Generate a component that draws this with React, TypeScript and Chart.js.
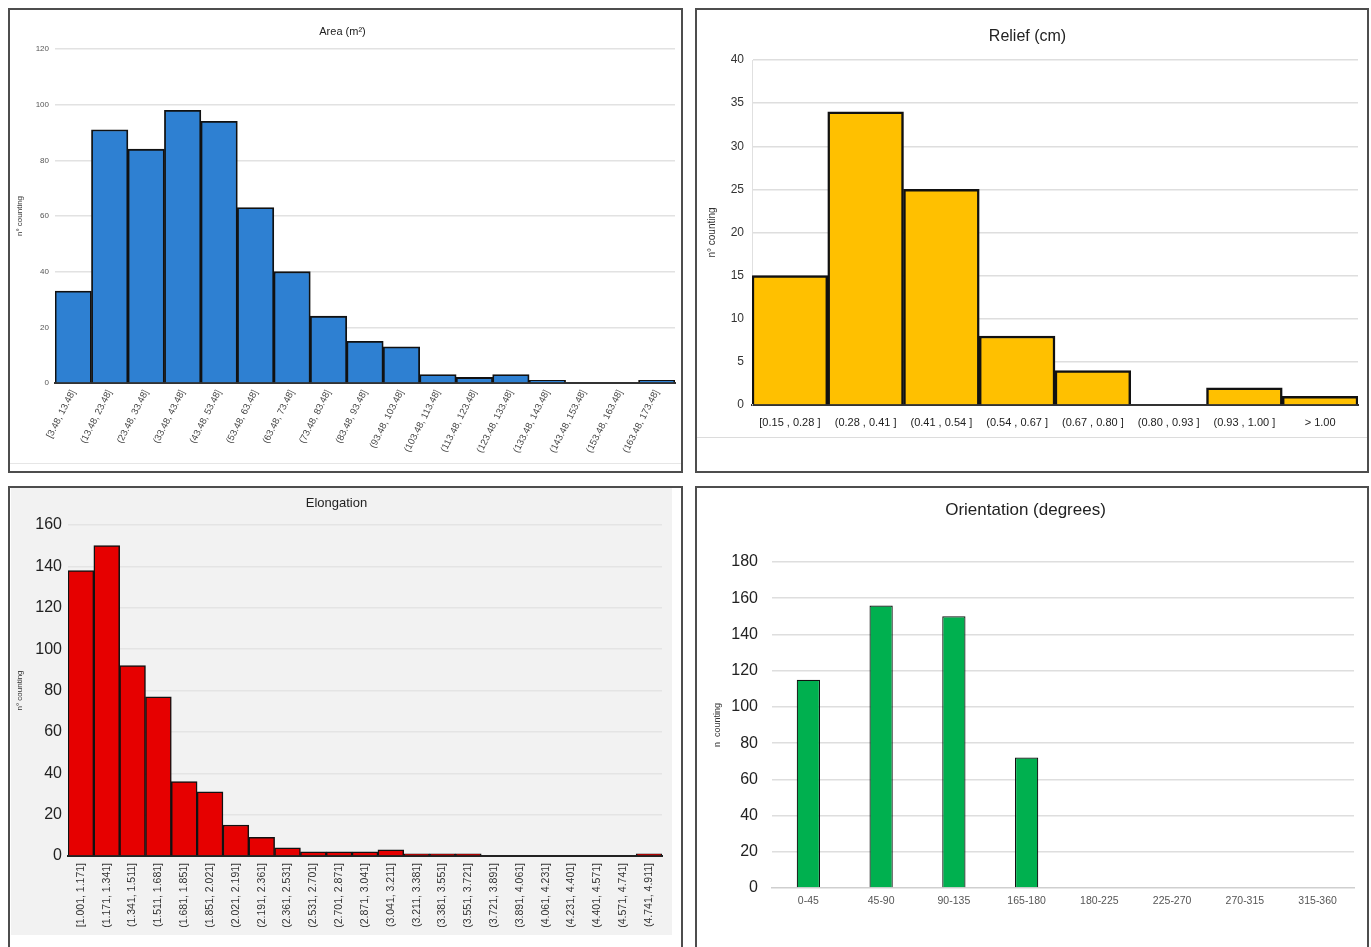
import React, { useEffect, useRef } from "react";
import { Chart, registerables } from "chart.js";

Chart.register(...registerables);

const FONT = "'Liberation Sans', Arial, Helvetica, sans-serif";

// ---------- Data ----------
const areaLabels = [
  "[3.48, 13.48]", "(13.48, 23.48]", "(23.48, 33.48]", "(33.48, 43.48]", "(43.48, 53.48]",
  "(53.48, 63.48]", "(63.48, 73.48]", "(73.48, 83.48]", "(83.48, 93.48]", "(93.48, 103.48]",
  "(103.48, 113.48]", "(113.48, 123.48]", "(123.48, 133.48]", "(133.48, 143.48]",
  "(143.48, 153.48]", "(153.48, 163.48]", "(163.48, 173.48]",
];
const areaCounts = [33, 91, 84, 98, 94, 63, 40, 24, 15, 13, 3, 2, 3, 1, 0, 0, 1];

const reliefLabels = [
  "[0.15 , 0.28 ]", "(0.28 , 0.41 ]", "(0.41 , 0.54 ]", "(0.54 , 0.67 ]",
  "(0.67 , 0.80 ]", "(0.80 , 0.93 ]", "(0.93 , 1.00 ]", "> 1.00",
];
const reliefCounts = [15, 34, 25, 8, 4, 0, 2, 1];

const elongLabels = [
  "[1.001, 1.171]", "(1.171, 1.341]", "(1.341, 1.511]", "(1.511, 1.681]", "(1.681, 1.851]",
  "(1.851, 2.021]", "(2.021, 2.191]", "(2.191, 2.361]", "(2.361, 2.531]", "(2.531, 2.701]",
  "(2.701, 2.871]", "(2.871, 3.041]", "(3.041, 3.211]", "(3.211, 3.381]", "(3.381, 3.551]",
  "(3.551, 3.721]", "(3.721, 3.891]", "(3.891, 4.061]", "(4.061, 4.231]", "(4.231, 4.401]",
  "(4.401, 4.571]", "(4.571, 4.741]", "(4.741, 4.911]",
];
const elongCounts = [138, 150, 92, 77, 36, 31, 15, 9, 4, 2, 2, 2, 3, 1, 1, 1, 0, 0, 0, 0, 0, 0, 1];

const orientLabels = ["0-45", "45-90", "90-135", "165-180", "180-225", "225-270", "270-315", "315-360"];
const orientCounts = [115, 156, 150, 72, 0, 0, 0, 0];

// ---------- Chart component ----------
type Cfg = {
  labels: string[];
  data: number[];
  color: string;
  borderWidth: number;
  width: number;
  height: number;
  plot: { left: number; top: number; right: number; bottom: number };
  title: string;
  titleSize: number;
  titleY: number;
  yMax: number;
  yStep: number;
  yTickSize: number;
  yTickPad: number;
  yTickColor: string;
  yTitle: string;
  yTitleSize: number;
  yTitleX: number;
  xTickSize: number;
  xRotation: number;
  xTickPad: number;
  xTickColor: string;
  barPct: number;
  baseColor: string;
  baseWidth: number;
  gridColor: string;
  yBorder: string | null;
  bg?: string;
};

function HistChart({ cfg, style }: { cfg: Cfg; style: React.CSSProperties }) {
  const ref = useRef<HTMLCanvasElement | null>(null);
  useEffect(() => {
    if (!ref.current) return;
    const c = cfg;
    const tLh = c.titleSize * 1.2;
    const yLh = c.yTitleSize * 1.2;
    const chart = new Chart(ref.current, {
      type: "bar",
      data: {
        labels: c.labels,
        datasets: [
          {
            data: c.data,
            backgroundColor: c.color,
            borderColor: "#111111",
            borderWidth: c.borderWidth,
            barPercentage: c.barPct,
            categoryPercentage: 1,
          },
        ],
      },
      options: {
        responsive: false,
        animation: false,
        events: [],
        layout: { padding: { left: 0, top: 0, right: c.width - c.plot.right, bottom: 0 } },
        plugins: {
          legend: { display: false },
          tooltip: { enabled: false },
          title: {
            display: true,
            text: c.title,
            color: "#222222",
            font: { family: FONT, size: c.titleSize, weight: "normal" as any },
            padding: { top: c.titleY - tLh / 2, bottom: c.plot.top - (c.titleY + tLh / 2) },
          },
        },
        scales: {
          x: {
            grid: { display: false, drawTicks: false },
            border: { display: true, color: c.baseColor, width: c.baseWidth },
            ticks: {
              autoSkip: false,
              minRotation: c.xRotation,
              maxRotation: c.xRotation,
              padding: c.xTickPad,
              color: c.xTickColor,
              font: { family: FONT, size: c.xTickSize },
            },
            afterFit: (s: any) => {
              s.height = c.height - c.plot.bottom;
              s.paddingLeft = 0;
              s.paddingRight = 0;
            },
          },
          y: {
            min: 0,
            max: c.yMax,
            ticks: {
              stepSize: c.yStep,
              padding: c.yTickPad,
              color: c.yTickColor,
              font: { family: FONT, size: c.yTickSize },
            },
            grid: {
              drawTicks: false,
              lineWidth: 1.5,
              color: (ctx: any) => (ctx.tick && ctx.tick.value === 0 ? "rgba(0,0,0,0)" : c.gridColor),
            },
            border: { display: !!c.yBorder, color: c.yBorder || "#ddd", width: 1 },
            title: {
              display: true,
              text: c.yTitle,
              color: "#333333",
              font: { family: FONT, size: c.yTitleSize },
              padding: { top: c.yTitleX - yLh / 2, bottom: 0 },
            },
            afterFit: (s: any) => {
              s.width = c.plot.left;
              s.paddingTop = 0;
              s.paddingBottom = 0;
            },
          },
        },
      },
    });
    return () => chart.destroy();
  }, [cfg]);
  return (
    <canvas
      ref={ref}
      width={cfg.width}
      height={cfg.height}
      style={{ position: "absolute", width: cfg.width, height: cfg.height, background: cfg.bg || "transparent", ...style }}
    />
  );
}

const areaCfg: Cfg = {
  labels: areaLabels, data: areaCounts, color: "#2e80d2", borderWidth: 1.8,
  width: 671, height: 461,
  plot: { left: 45, top: 39, right: 665, bottom: 373 },
  title: "Area (m²)", titleSize: 11, titleY: 22,
  yMax: 120, yStep: 20, yTickSize: 8, yTickPad: 6, yTickColor: "#555555",
  yTitle: "n° counting", yTitleSize: 8, yTitleX: 10,
  xTickSize: 9.5, xRotation: 63, xTickPad: 5, xTickColor: "#444444",
  barPct: 1, baseColor: "#333333", baseWidth: 2, gridColor: "#e2e2e2", yBorder: null,
};

const reliefCfg: Cfg = {
  labels: reliefLabels, data: reliefCounts, color: "#ffc000", borderWidth: 2.5,
  width: 670, height: 461,
  plot: { left: 55, top: 50, right: 661, bottom: 395 },
  title: "Relief (cm)", titleSize: 16, titleY: 27,
  yMax: 40, yStep: 5, yTickSize: 12, yTickPad: 8, yTickColor: "#333333",
  yTitle: "n° counting", yTitleSize: 10, yTitleX: 15,
  xTickSize: 11, xRotation: 0, xTickPad: 11, xTickColor: "#222222",
  barPct: 1, baseColor: "#333333", baseWidth: 2, gridColor: "#dedede", yBorder: "#e0e0e0",
};

const elongCfg: Cfg = {
  labels: elongLabels, data: elongCounts, color: "#e60000", borderWidth: 1.5,
  width: 661, height: 447,
  plot: { left: 57, top: 37, right: 651, bottom: 368 },
  title: "Elongation", titleSize: 13, titleY: 15,
  yMax: 160, yStep: 20, yTickSize: 16, yTickPad: 6, yTickColor: "#222222",
  yTitle: "n° counting", yTitleSize: 8, yTitleX: 9,
  xTickSize: 10.5, xRotation: 90, xTickPad: 7, xTickColor: "#333333",
  barPct: 1, baseColor: "#222222", baseWidth: 2, gridColor: "#e4e4e4", yBorder: null,
  bg: "#f2f2f2",
};

const orientCfg: Cfg = {
  labels: orientLabels, data: orientCounts, color: "#00b04f", borderWidth: 1.2,
  width: 670, height: 459,
  plot: { left: 75, top: 74, right: 657, bottom: 400 },
  title: "Orientation (degrees)", titleSize: 17, titleY: 22,
  yMax: 180, yStep: 20, yTickSize: 16, yTickPad: 14, yTickColor: "#222222",
  yTitle: "n  counting", yTitleSize: 9, yTitleX: 21,
  xTickSize: 10.5, xRotation: 0, xTickPad: 7, xTickColor: "#555555",
  barPct: 0.32, baseColor: "#cfcfcf", baseWidth: 1.5, gridColor: "#dedede", yBorder: null,
};

const panel = (left: number, top: number, width: number, height: number): React.CSSProperties => ({
  position: "absolute",
  left,
  top,
  width,
  height,
  border: "2px solid #4d4d4d",
  boxSizing: "border-box",
  background: "#ffffff",
});

export default function App() {
  return (
    <div style={{ position: "absolute", left: 0, top: 0, width: 1371, height: 947, overflow: "hidden", background: "#ffffff" }}>
      <div style={panel(8, 8, 675, 465)} />
      <div style={panel(695, 8, 674, 465)} />
      <div style={panel(8, 486, 675, 470)} />
      <div style={panel(695, 486, 674, 470)} />
      <div style={{ position: "absolute", left: 10, top: 463, width: 671, height: 1, background: "#e6e6e6" }} />
      <div style={{ position: "absolute", left: 697, top: 437, width: 670, height: 1, background: "#dcdcdc" }} />
      <HistChart cfg={areaCfg} style={{ left: 10, top: 10 }} />
      <HistChart cfg={reliefCfg} style={{ left: 697, top: 10 }} />
      <HistChart cfg={elongCfg} style={{ left: 11, top: 488 }} />
      <HistChart cfg={orientCfg} style={{ left: 697, top: 488 }} />
    </div>
  );
}
